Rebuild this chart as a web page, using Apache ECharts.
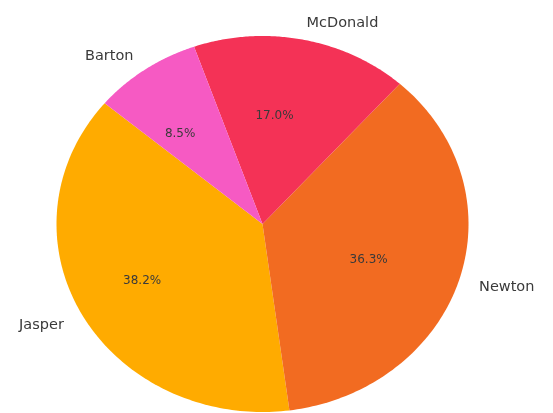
<!DOCTYPE html>
<html>
<head>
<meta charset="utf-8">
<style>
  html, body { margin: 0; padding: 0; background: #ffffff; }
  #chart { width: 553px; height: 413px; }
</style>
<script src="https://cdn.jsdelivr.net/npm/echarts@6/dist/echarts.min.js"></script>
</head>
<body>
<div id="chart"></div>
<script>
// ---- Data ----
const names = ['Jasper', 'Newton', 'McDonald', 'Barton'];
const values = [38.2, 36.3, 17.0, 8.5];
const colors = ['#FFAB00', '#F26B21', '#F43256', '#F65AC3'];
const startAngle = 140; // degrees, counter-clockwise like matplotlib

// ---- Build wedge table from the data ----
const total = values.reduce((a, b) => a + b, 0);
let acc = startAngle;
const rows = values.map((v, i) => {
  const a0 = acc;
  const a1 = acc + v / total * 360;
  acc = a1;
  return [a0, a1, v, i];
});

const chart = echarts.init(document.getElementById('chart'), null, { renderer: 'canvas' });

function renderItem(params, api) {
  const a0 = api.value(0) * Math.PI / 180;
  const a1 = api.value(1) * Math.PI / 180;
  const v = api.value(2);
  const idx = api.value(3);
  const pts = [api.coord([0, 0])];
  const n = 120;
  for (let k = 0; k <= n; k++) {
    const t = a0 + (a1 - a0) * k / n;
    pts.push(api.coord([Math.cos(t), Math.sin(t)]));
  }
  const mid = (a0 + a1) / 2;
  const pPct = api.coord([0.6 * Math.cos(mid), 0.6 * Math.sin(mid)]);
  const pLab = api.coord([1.1 * Math.cos(mid), 1.1 * Math.sin(mid)]);
  return {
    type: 'group',
    children: [
      {
        type: 'polygon',
        shape: { points: pts },
        style: { fill: colors[idx], stroke: null }
      },
      {
        type: 'text',
        x: pPct[0] - 12, y: pPct[1] + 3,
        z2: 10,
        style: {
          text: v.toFixed(1) + '%',
          fontFamily: 'DejaVu Sans',
          fontSize: 12,
          fill: '#3a3a3a',
          align: 'center',
          verticalAlign: 'middle'
        }
      },
      {
        type: 'text',
        x: pLab[0], y: pLab[1] + 2,
        z2: 10,
        style: {
          text: names[idx],
          fontFamily: 'DejaVu Sans',
          fontSize: 14.5,
          fill: '#3a3a3a',
          align: Math.cos(mid) > 0 ? 'left' : 'right',
          verticalAlign: 'middle'
        }
      }
    ]
  };
}

chart.setOption({
  backgroundColor: '#ffffff',
  animation: false,
  grid: { left: 56.5, width: 412, top: 36, height: 376, containLabel: false },
  xAxis: { type: 'value', min: -1, max: 1, show: false },
  yAxis: { type: 'value', min: -1, max: 1, show: false },
  series: [{
    type: 'custom',
    clip: false,
    renderItem: renderItem,
    encode: { x: 0, y: 1 },
    data: rows
  }]
});
</script>
</body>
</html>
